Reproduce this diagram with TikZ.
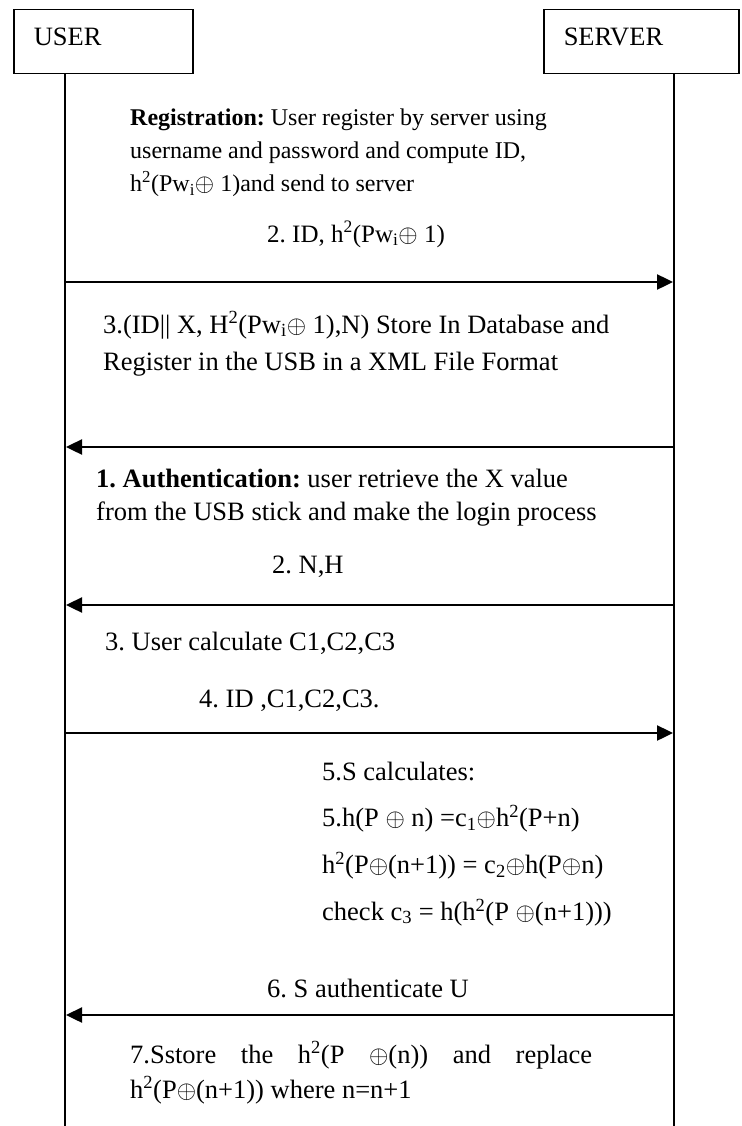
\documentclass[tikz,border=0pt]{standalone}
\usepackage{fontspec}
\setmainfont{Liberation Serif}
\usepackage{xcolor}
\usepackage{tikz}
\usetikzlibrary{arrows.meta}
\AtBeginDocument{\frenchspacing}
\definecolor{ink}{HTML}{000000}
\tikzset{
  actor/.style={rectangle,draw=ink,line width=1.5pt,inner xsep=20pt,inner ysep=0pt,
    text width=#1,align=flush left,text height=36pt,text depth=28pt,
    font=\fontsize{26.5}{33}\selectfont},
  life/.style={draw=ink,line width=1.8pt},
  msg/.style={-{Triangle[length=16pt,width=15pt]},line width=2.4pt,draw=ink,shorten >=1pt},
  note/.style={anchor=base west,inner sep=0pt,text width=#1,align=flush left,
    font=\fontsize{26.5}{33}\selectfont},
  note/.default=560pt
}

\begin{document}
\begin{tikzpicture}[x=1pt,y=-1pt]
\useasboundingbox (0,0) rectangle (741,1126);
\node[actor=139pt,anchor=north west] (user) at (13,9) {USER};
\node[actor=155pt,anchor=north west] (server) at (543,9) {SERVER};
% lifelines
\coordinate (uEnd) at (65,1126);
\coordinate (sEnd) at (674,1126);
\draw[life] (user.south -| uEnd) -- (uEnd);
\draw[life] (server.south -| sEnd) -- (sEnd);
% message ends on both lifelines
\foreach \n/\y in {1/282,2/447,3/605,4/733,5/1015}{
  \coordinate (u\n) at (65,\y);
  \coordinate (s\n) at (674,\y);
}
\draw[msg] (u1) -- (s1);
\draw[msg] (s2) -- (u2);
\draw[msg] (s3) -- (u3);
\draw[msg] (u4) -- (s4);
\draw[msg] (s5) -- (u5);
% registration
\node[note,font=\fontsize{24}{33}\selectfont] (reg) at (130,126)
  {\textbf{Registration:} User register by server using\\
  username and password and compute ID,\\
  h\textsuperscript{2}(Pw\textsubscript{i}$\oplus$ 1)and send to server};
\node[note,font=\fontsize{25}{33}\selectfont] (idmsg) at (267,242)
  {2. ID, h\textsuperscript{2}(Pw\textsubscript{i}$\oplus$ 1)};
\node[note,font=\fontsize{26.5}{37}\selectfont] (store) at (103,333)
  {3.(ID|| X, H\textsuperscript{2}(Pw\textsubscript{i}$\oplus$ 1),N) Store In Database and\\
  Register in the USB in a XML File Format};
% authentication
\node[note] (auth) at (96,487) {\textbf{1. Authentication:} user retrieve the X value\\
  from the USB stick and make the login process};
\node[note] (nh) at (272,573) {2. N,H};
\node[note] (calc) at (105,650) {3. User calculate C1,C2,C3};
\node[note] (idc) at (199,707) {4. ID ,C1,C2,C3.};
\node[note=400pt,font=\fontsize{26.5}{46.7}\selectfont] (scalc) at (322,780) {5.S calculates:\\
  5.h(P $\oplus$ n) =c\textsubscript{1}$\oplus$h\textsuperscript{2}(P+n)\\
  h\textsuperscript{2}(P$\oplus$(n+1)) = c\textsubscript{2}$\oplus$h(P$\oplus$n)\\
  check c\textsubscript{3} = h(h\textsuperscript{2}(P $\oplus$(n+1)))};
\node[note] (okmsg) at (267,997) {6. S authenticate U};
\node[note,font=\fontsize{26.5}{35}\selectfont] (upd) at (130,1063)
  {\makebox[462pt][s]{7.Sstore the h\textsuperscript{2}(P $\oplus$(n)) and replace}\\
  h\textsuperscript{2}(P$\oplus$(n+1)) where n=n+1};
\end{tikzpicture}
\end{document}
